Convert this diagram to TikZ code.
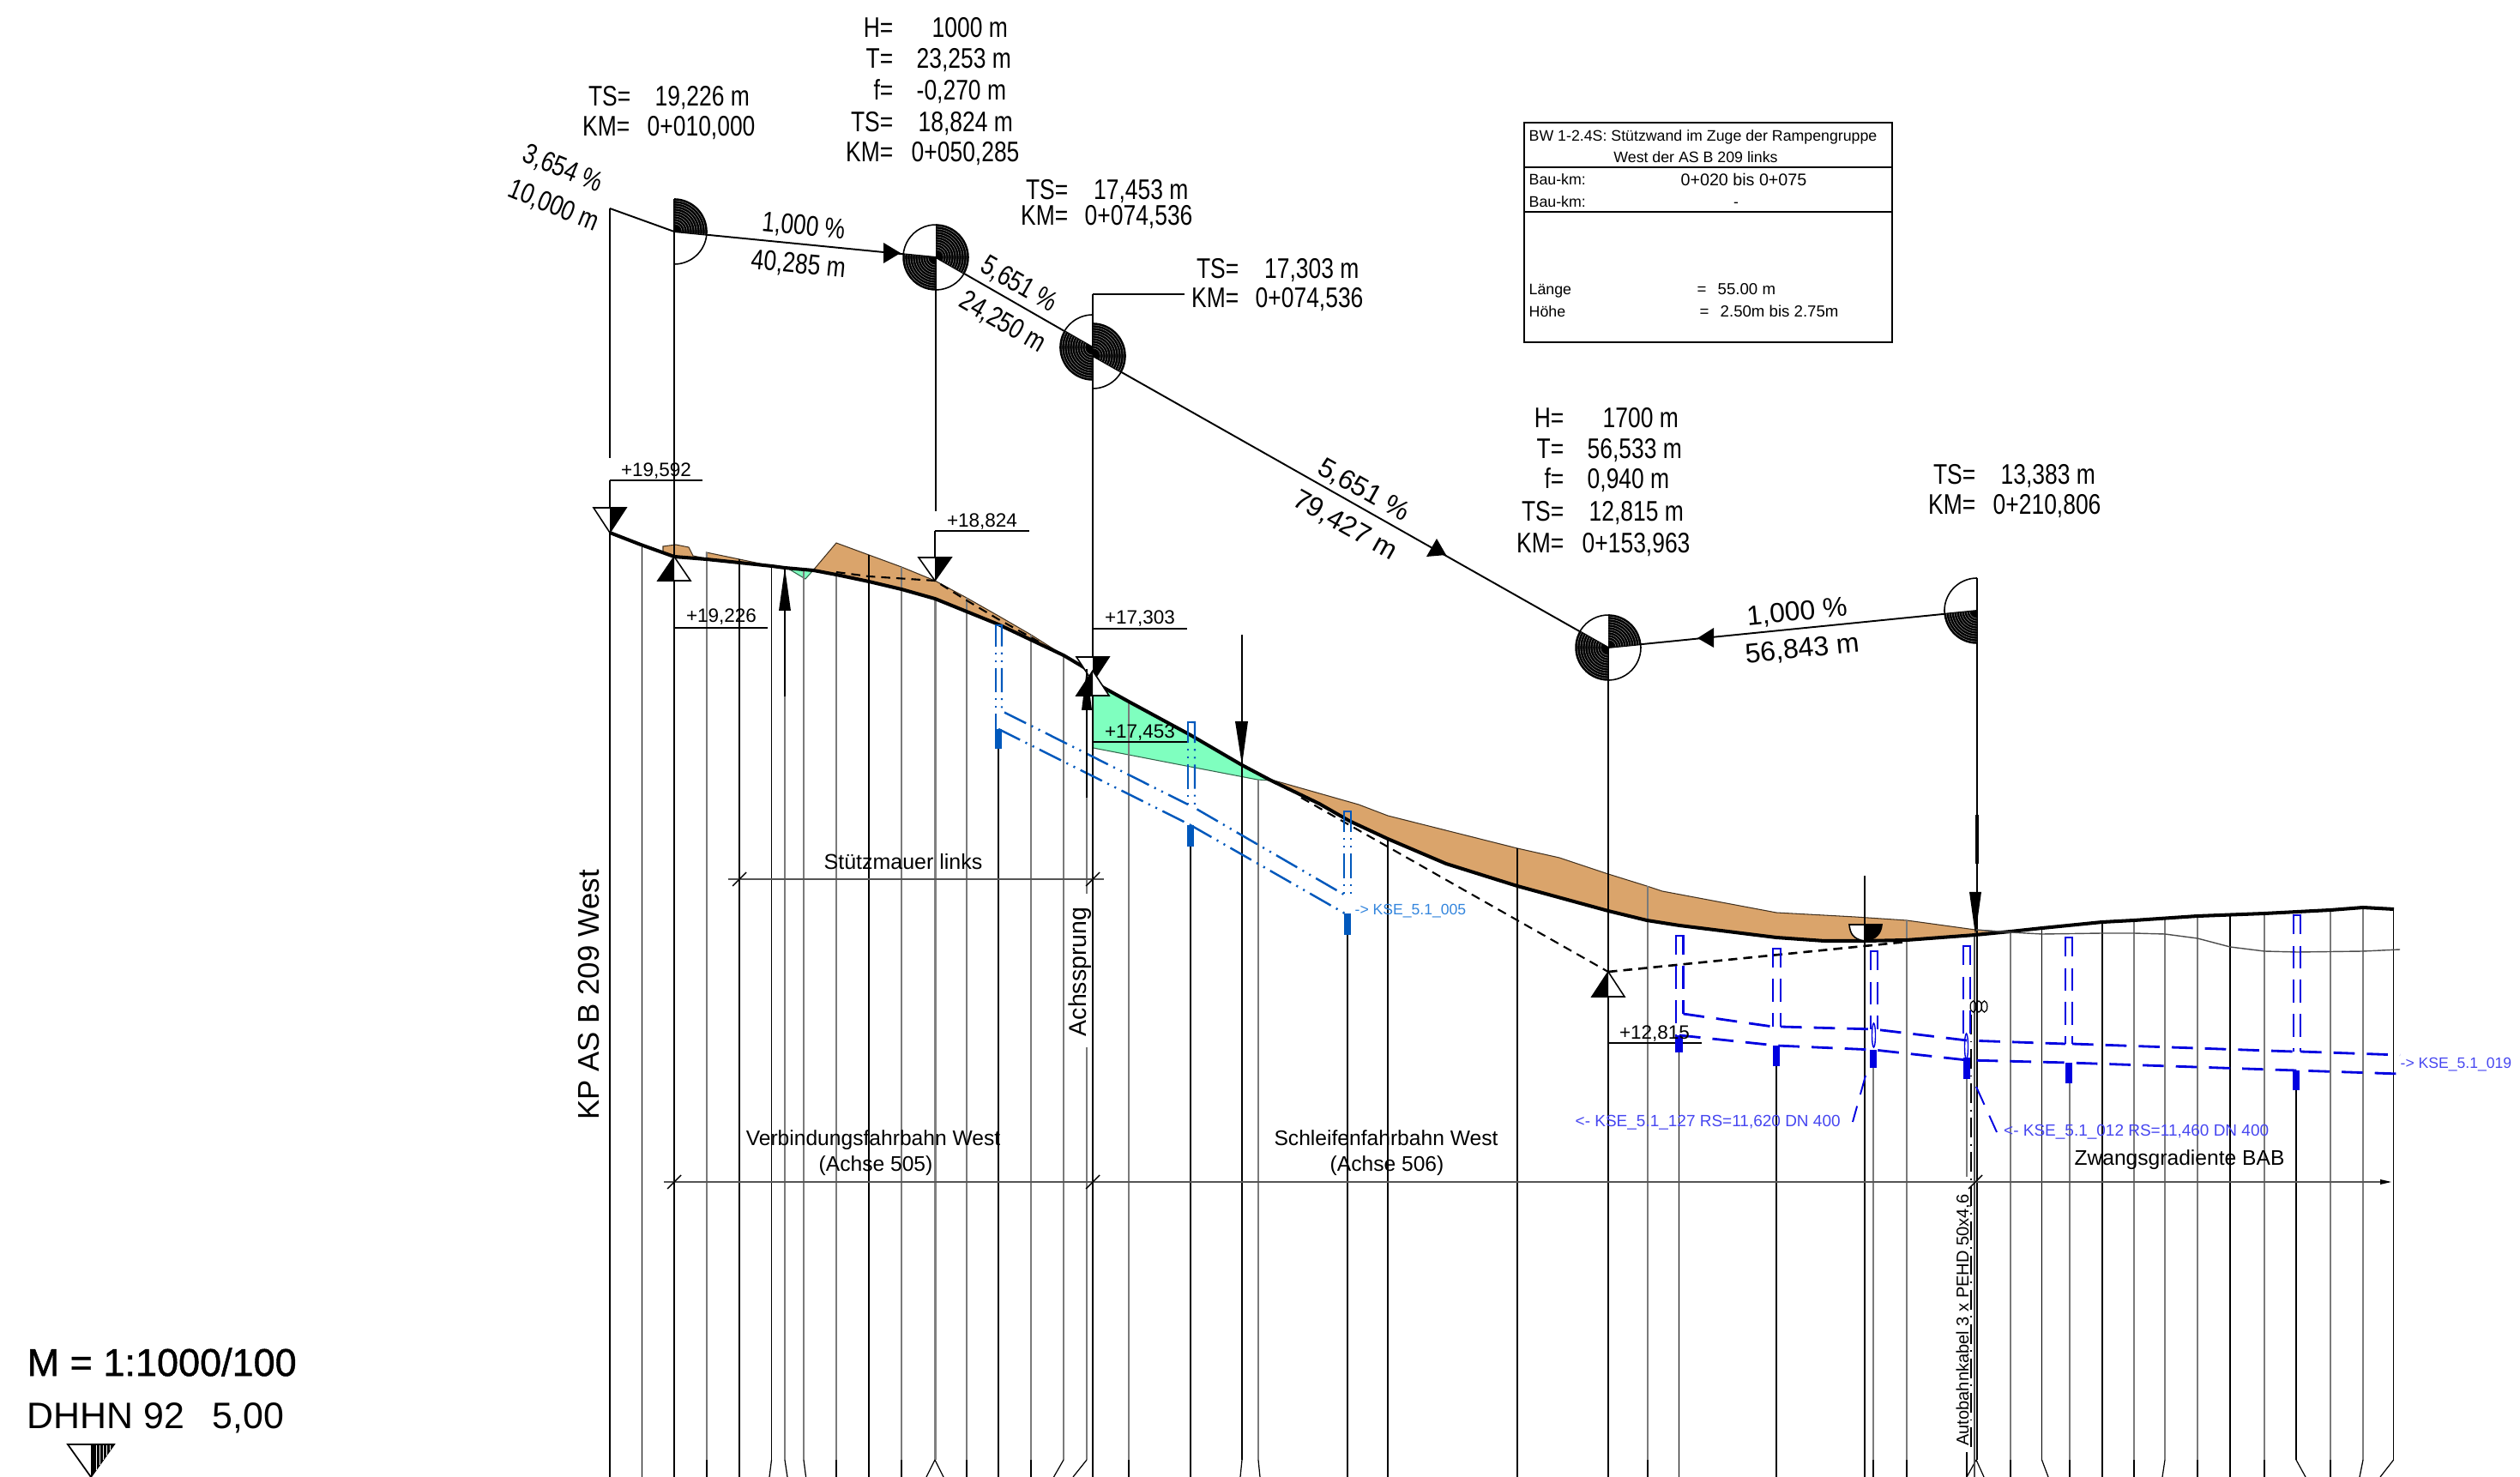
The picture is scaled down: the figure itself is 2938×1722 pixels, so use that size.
\documentclass[tikz,border=0pt]{standalone}
\usepackage{fontspec}
\setmainfont{Liberation Sans}
\newfontfamily\nar[FakeStretch=0.8]{Liberation Sans}
\newfontfamily\mfont[FakeBold=1.0]{Liberation Sans}
\definecolor{soil}{HTML}{DAA46B}
\definecolor{mint}{HTML}{7FFFBF}
\definecolor{bluea}{HTML}{0058BC}
\definecolor{blueb}{HTML}{0000E0}
\definecolor{txta}{HTML}{3385DD}
\definecolor{txtb}{HTML}{4646F0}
\definecolor{dimg}{HTML}{555555}
\tikzset{
  t/.style={inner sep=0pt,text depth=0pt,text height=#1*0.716pt,font=\fontsize{#1}{#1}\selectfont},
  tn/.style={inner sep=0pt,text depth=0pt,text height=#1*0.716pt,font=\nar\fontsize{#1}{#1}\selectfont},
  thinv/.style={line width=0.35pt,black},
  greyv/.style={line width=0.5pt,black!52},
  mainv/.style={line width=0.6pt,black},
  ground/.style={line width=1.15pt,black,line join=round},
  dashg/.style={line width=0.6pt,dash pattern=on 3pt off 2pt,black},
  pipea/.style={line width=0.7pt,bluea,dash pattern=on 8pt off 2pt on .6pt off 2pt on .6pt off 2pt},
  pipeb/.style={line width=0.8pt,blueb,dash pattern=on 7pt off 4pt},
  shaftb/.style={line width=0.65pt,blueb,dash pattern=on 7.5pt off 3.8pt},
  stuba/.style={line width=2.2pt,bluea},
  stubb/.style={line width=2.3pt,blueb},
  dimline/.style={line width=0.7pt,dimg},
  tick/.style={line width=0.4pt,black},
}
% sector in y-down pixel coordinates: angle 0 = right, 90 = down
\newcommand\sect[4]{%
  \fill[black] (#1,#2) -- plot[domain=#3:#4,samples=24] ({#1+38*cos(\x)},{#2+38*sin(\x)}) -- cycle;
  \foreach \rr in {9,12,15,18,21,24,27,30,33,36}{\draw[white!75!black,line width=0.09pt] plot[domain=#3:#4,samples=24] ({#1+\rr*cos(\x)},{#2+\rr*sin(\x)});}
}
\newcommand\outl[4]{\draw[line width=0.45pt] plot[domain=#3:#4,samples=50] ({#1+38*cos(\x)},{#2+38*sin(\x)});}
% triangle x,tip,base,halfwidth,blackside
\newcommand\tri[5]{%
  \draw[line width=0.45pt,fill=white,line join=miter] (#1,#2) -- ({#1-#4},#3) -- ({#1+#4},#3) -- cycle;
  \fill[black] (#1,#2) -- ({#1+#5*#4},#3) -- (#1,#3) -- cycle;
}
\newcommand\rowt[6]{%
  \node[tn=9.4,anchor=east] (#1a) at (#3,#2) {#4};
  \node[tn=9.4,anchor=west] (#1b) at (#5,#2) {#6};
}
\newcommand\tickm[2]{\draw[tick] ({#1-8},{#2+8}) -- ({#1+8},{#2-8});}
\begin{document}
\begin{tikzpicture}[x=0.01cm,y=-0.01cm]
\useasboundingbox (0,0) rectangle (2938,1722);

% soil and fill areas
\fill[soil,draw=black!70!soil,line width=0.3pt] (948,665) -- (975,633) -- (1013,647) -- (1051,661) -- (1090,677) -- (1127,697) -- (1164,718) -- (1202,740) -- (1240,764) -- (1202,746) -- (1164,728) -- (1127,713) -- (1090,698) -- (1051,687) -- (1013,678) -- (975,670) -- cycle;
\fill[soil,draw=black!70!soil,line width=0.3pt] (773,644) -- (773,637) -- (788,635) -- (803,638) -- (808,648) -- (823,651) -- (786,649) -- cycle;
\fill[soil,draw=black!70!soil,line width=0.3pt] (823.5,644) -- (862,652) -- (900,660) -- (862,656) -- (823.5,652) -- cycle;
\fill[mint,draw=black!60!mint,line width=0.3pt] (919,663) -- (947,666) -- (939,675) -- cycle;
\fill[mint,draw=black!60!mint,line width=0.3pt] (1274.5,795) -- (1316,818) -- (1388,857) -- (1448,892) -- (1482,910) -- (1466,909) -- (1388,894) -- (1274.5,872) -- cycle;
\fill[soil,draw=black!70!soil,line width=0.3pt] (1482,909) -- (1584,938) -- (1618,951) -- (1769,989) -- (1818,1000) -- (1875,1019) -- (1920,1033) -- (1938,1039) -- (2071,1064) -- (2163,1069) -- (2223,1073) -- (2303,1084) -- (2333,1086) -- (2303,1090) -- (2223,1096) -- (2174,1097) -- (2127,1097) -- (2071,1093) -- (1958,1079) -- (1920,1073) -- (1875,1062) -- (1769,1033) -- (1686,1007) -- (1618,978) -- (1573,957) -- (1538,937) -- cycle;

% thin station lines
\foreach \xx/\yy in {748.5/635,862/652,899.5/660,1013/647,1164/873,1388/987,1448/892,1571/1090,1618/978,1769/989,1957.5/1227,2071/1243,2174/1021,2380.5/1082,2451/1075,2600/1066,2677/1271,2790.6/1060}
  {\draw[thinv] (\xx,\yy) -- (\xx,1702);}
\foreach \xx/\yy in {824/644,915/812,937/665,975/667,1051/661,1127/697,1202/740,1240/764,1267/1221,1316/818,1467/909,1921/1033,2184/1245,2223/1073,2344/1086,2413/1263,2488/1073,2524/1070,2562/1068,2640/1065,2717/1061,2755/1058}
  {\draw[greyv] (\xx,\yy) -- (\xx,1702);}
\draw[greyv] (1267,930) -- (1267,1042);
\draw[greyv] (2293,1258) -- (2293,1372);
\draw[thinv] (2293,1693) -- (2293,1702);
% lower ends of the station lines
\foreach \xa/\xb in {748.5/748.5,786/786,824/824,862/862,899.5/897,915/918,937/939.6,975/975,1013/1013,1051/1051,1127/1127,1164/1164,1202/1202,1240/1228.5,1267/1251,1316/1316,1388/1388,1448/1446,1467/1469,1571/1571,1618/1618,1769/1769,1921/1921,1957.5/1957.5,2071/2071,2174/2174,2184/2184,2223/2223,2293/2293,2344/2344,2380.5/2388,2413/2413,2451/2451,2488/2488,2524/2521,2562/2562,2600/2600,2640/2640,2677/2688,2717/2717,2755/2751,2790.6/2775}
  {\draw[thinv] (\xa,1702) -- (\xb,1722);}
\draw[line width=0.85pt,black!50] (1090,698) -- (1090,1702);
\draw[thinv] (1090,1702) -- (1080,1722) (1090,1702) -- (1100,1722);
\draw[thinv] (2304,1702) -- (2293,1722) (2304,1702) -- (2313,1722);
\draw[line width=0.3pt,black,dash pattern=on 6.5pt off 2.2pt on .5pt off 2.2pt] (2298,1183) -- (2298,1693);
\draw[line width=0.3pt,black!70] (2302,1090) -- (2302,1722);

% main verticals and level leaders
\draw[mainv] (711,243) -- (711,534);
\draw[mainv] (711,560) -- (711,1722);
\draw[mainv] (786,232) -- (786,1722);
\draw[mainv] (1091,300) -- (1091,596);
\draw[mainv] (1090,619) -- (1090,677);
\draw[mainv] (1274,343) -- (1274,1722);
\draw[mainv] (1875,755) -- (1875,1722);
\draw[mainv] (2305,674) -- (2305,1702);
\draw[line width=1pt] (2305,950) -- (2305,1007);
\draw[mainv] (1274,343) -- (1381,343);
\draw[line width=0.5pt] (711,560) -- (819,560);
\draw[line width=0.5pt] (786,732) -- (895,732);
\draw[line width=0.5pt] (1090,619) -- (1200,619);
\draw[line width=0.5pt] (1274,733) -- (1384,733);
\draw[line width=0.5pt] (1274,865) -- (1385,865);
\draw[line width=0.5pt] (1875,1216) -- (1984,1216);

% tangent polygon
\draw[line width=0.55pt,line join=round] (711,243) -- (786,270) -- (1091,300);
\draw[line width=0.55pt] (1091,300) -- (1274,405);
\draw[line width=0.55pt] (1274,415) -- (1875,755);
\draw[line width=0.55pt] (1875,755) -- (2305,712);
\fill[black] (1050,295) -- (1030,283) -- (1030,307) -- cycle;
\fill[black] (1686,647) -- (1675,628) -- (1663,649) -- cycle;
\fill[black] (1979,744) -- (1998,732) -- (1998,755) -- cycle;

% curve circles
\sect{786}{270}{-90}{5.6}
\outl{786}{270}{-90}{90}
\sect{1091}{300}{-90}{29.8}
\sect{1091}{300}{90}{185.6}
\outl{1091}{300}{0}{360}
\sect{1274}{405}{90}{209.8}
\outl{1274}{405}{90}{270}
\sect{1274}{415}{-90}{29.4}
\outl{1274}{415}{-90}{90}
\sect{1875}{755}{-90}{-5.7}
\sect{1875}{755}{90}{209.4}
\outl{1875}{755}{0}{360}
\sect{2305}{712}{90}{174.3}
\outl{2305}{712}{90}{270}

% design dashed lines
\draw[dashg] (975,667) -- (1013,672) -- (1090,677) -- (1127,700) -- (1164,722) -- (1211,748);
\draw[dashg] (1517,930) -- (1875,1133);
\draw[dashg,line width=0.75pt] (1875,1133) -- (2223,1098);

% ground lines
\draw[ground] (711,621) -- (747,635) -- (786,649) -- (823.5,652) -- (862,656) -- (900,660) -- (915,662) -- (948.5,665) -- (975,670) -- (1013,678) -- (1051,687) -- (1090,698) -- (1127,713) -- (1164,728) -- (1202,746) -- (1240,764) -- (1272,783);
\draw[ground] (1274.5,795) -- (1316,818) -- (1388,857) -- (1448,892) -- (1482,910) -- (1538,937) -- (1573,957) -- (1618,978) -- (1686,1007) -- (1769,1033) -- (1875,1062) -- (1920,1073) -- (1958,1079) -- (2071,1093) -- (2127,1097) -- (2174,1097) -- (2223,1096) -- (2303,1090) -- (2344,1086) -- (2381,1082) -- (2451,1075) -- (2488,1073) -- (2562,1068) -- (2640,1065) -- (2717,1061) -- (2755,1058) -- (2791,1060);
\draw[line width=0.4pt,black!70] (2303,1084) -- (2344,1087) -- (2381,1089) -- (2451,1088) -- (2488,1088) -- (2524,1089) -- (2562,1094) -- (2600,1104) -- (2640,1109) -- (2678,1110) -- (2755,1109) -- (2798,1107);

% blue drainage, west part
\draw[pipea] (1164.5,729) -- (1161,729) -- (1161,850);
\draw[pipea] (1164.5,729) -- (1168,729) -- (1168,829) -- (1385,938);
\draw[pipea] (1164,850) -- (1388,962);
\draw[pipea] (1389,842) -- (1385,842) -- (1385,938);
\draw[pipea] (1389,842) -- (1393,842) -- (1393,942) -- (1567,1043);
\draw[pipea] (1388,962) -- (1568,1065);
\draw[pipea] (1571,946) -- (1567,946) -- (1567,1043);
\draw[pipea] (1571,946) -- (1575,946) -- (1575,1045);
\draw[stuba] (1164,850) -- (1164,873);
\draw[stuba] (1388,962) -- (1388,987);
\draw[stuba] (1571,1065) -- (1571,1090);

% blue drainage, east part
\foreach \xl/\xr/\yt/\yl/\yr in {1954/1962.5/1091/1207/1182,2067/2076/1106/1197/1197,2181/2189/1109/1200/1200,2289/2297/1103/1213/1213,2408/2416/1093/1217/1217,2674/2682/1067/1226/1226}{
  \draw[shaftb] ({(\xl+\xr)/2},\yt) -- (\xl,\yt) -- (\xl,\yl);
  \draw[shaftb] ({(\xl+\xr)/2},\yt) -- (\xr,\yt) -- (\xr,\yr);
}
\draw[pipeb] (1962.5,1182) -- (2067,1197);
\draw[pipeb] (2076,1197) -- (2185,1200) -- (2293,1213) -- (2408,1217);
\draw[pipeb] (2416,1217) -- (2674,1226);
\draw[pipeb] (2682,1226) -- (2798,1230);
\draw[pipeb] (1958,1207) -- (2071,1219) -- (2185,1224) -- (2293,1236) -- (2412,1239) -- (2677,1248) -- (2798,1252);
\draw[stubb] (1957.5,1207) -- (1957.5,1227);
\draw[stubb] (2071,1219) -- (2071,1243);
\draw[stubb] (2184,1224) -- (2184,1245);
\draw[stubb] (2293,1233) -- (2293,1258);
\draw[stubb] (2412,1239) -- (2412,1263);
\draw[stubb] (2677,1248) -- (2677,1271);
\draw[blueb,line width=0.4pt] (2292.5,1220) ellipse [x radius=2,y radius=15];
\draw[blueb,line width=0.4pt] (2184.5,1207) ellipse [x radius=2,y radius=14];
\draw[blueb,line width=0.55pt,dash pattern=on 6.5pt off 4pt] (2175,1254) -- (2160,1308);
\draw[blueb,line width=0.55pt,dash pattern=on 6.5pt off 4pt] (2304,1267) -- (2328,1320);
\foreach \xx in {2300.5,2307,2313.5}{\draw[line width=0.35pt] (\xx,1173.5) ellipse [x radius=3.4,y radius=6.5];}

% level triangles and arrows
\tri{711}{621}{592}{19}{1}
\tri{786}{649}{677}{19}{-1}
\tri{1090}{677}{650}{19}{1}
\tri{1274}{795}{766}{19}{1}
\tri{1274}{782}{811}{19}{-1}
\tri{1875}{1133}{1162}{19}{-1}
\draw[line width=0.45pt,fill=white] (2174,1097) .. controls (2160,1095) and (2157,1088) .. (2156,1078) -- (2194,1078) .. controls (2193,1088) and (2188,1095) .. (2174,1097) -- cycle;
\fill[black] (2174,1097) .. controls (2188,1095) and (2193,1088) .. (2194,1078) -- (2174,1078) -- cycle;
\draw[line width=0.5pt] (2174,1021) -- (2174,1097);
\draw[line width=0.6pt] (915,662) -- (915,812);
\fill[black] (915,662) -- (908,712) -- (922,712) -- cycle;
\draw[line width=0.75pt] (1267,780) -- (1267,930);
\fill[black] (1267,780) -- (1261,828) -- (1273,828) -- cycle;
\draw[line width=0.55pt] (1448,740) -- (1448,892);
\fill[black] (1448,892) -- (1440,841) -- (1455,841) -- cycle;
\fill[black] (2303,1090) -- (2296,1040) -- (2310,1040) -- cycle;

% dimension lines
\draw[dimline] (849,1025) -- (1287,1025);
\tickm{862}{1025}
\tickm{1274}{1025}
\draw[dimline] (774,1378) -- (2782,1378);
\fill[black] (2788,1378) -- (2775,1375) -- (2775,1381) -- cycle;
\tickm{786}{1378}
\tickm{1274}{1378}
\tickm{2303}{1378}

% station blocks
\rowt{aa}{112}{736}{TS=}{763}{19,226 m}
\rowt{ab}{147}{735}{KM=}{754}{0+010,000}
\rowt{ba}{32}{1042}{H=}{1086}{1000 m}
\rowt{bb}{68}{1042}{T=}{1068}{23,253 m}
\rowt{bc}{105}{1042}{f=}{1068}{-0,270 m}
\rowt{bd}{142}{1042}{TS=}{1070}{18,824 m}
\rowt{be}{177}{1042}{KM=}{1062}{0+050,285}
\rowt{ca}{221}{1246}{TS=}{1274.5}{17,453 m}
\rowt{cb}{251}{1246}{KM=}{1264}{0+074,536}
\rowt{da}{313}{1445}{TS=}{1473.5}{17,303 m}
\rowt{db}{347}{1445}{KM=}{1463}{0+074,536}
\rowt{ea}{487}{1824}{H=}{1868}{1700 m}
\rowt{eb}{523}{1824}{T=}{1850}{56,533 m}
\rowt{ec}{558}{1824}{f=}{1850}{0,940 m}
\rowt{ed}{596}{1824}{TS=}{1852}{12,815 m}
\rowt{ee}{633}{1824}{KM=}{1844}{0+153,963}
\rowt{fa}{553}{2304}{TS=}{2332}{13,383 m}
\rowt{fb}{588}{2304}{KM=}{2323}{0+210,806}

% grade labels
\node[tn=9.4,rotate=-22] (g1a) at (657,195) {3,654 \%};
\node[tn=9.4,rotate=-22] (g1b) at (646,238) {10,000 m};
\node[tn=9.4,rotate=-5.6] (g2a) at (937,262) {1,000 \%};
\node[tn=9.4,rotate=-5.6] (g2b) at (931,307) {40,285 m};
\node[tn=9.4,rotate=-30] (g3a) at (1189,330) {5,651 \%};
\node[tn=9.4,rotate=-30] (g3b) at (1170,374) {24,250 m};
\node[t=9.1,rotate=-29.4] (g4a) at (1591,570) {5,651 \%};
\node[t=9.1,rotate=-29.4] (g4b) at (1569,611) {79,427 m};
\node[t=9.1,rotate=5.7] (g5a) at (2095,712) {1,000 \%};
\node[t=9.1,rotate=5.7] (g5b) at (2101,755) {56,843 m};

% level labels
\node[t=6.4] (l1) at (765,547) {+19,592};
\node[t=6.4] (l2) at (841,717) {+19,226};
\node[t=6.4] (l3) at (1145,606) {+18,824};
\node[t=6.4] (l4) at (1329,719) {+17,303};
\node[t=6.4] (l5) at (1329,852) {+17,453};
\node[t=6.4] (l6) at (1929,1203) {+12,815};

% side and span labels
\node[t=9.9,rotate=90] (kp) at (686,1160) {KP AS B 209 West};
\node[t=8.1,rotate=90] (ach) at (1256,1133) {Achssprung};
\node[t=5.7,rotate=90] (kab) at (2288,1539) {Autobahnkabel 3 x PEHD 50x4,6};
\node[t=7.1] (stm) at (1053,1005) {Stützmauer links};
\node[t=7] (vb1) at (1018,1327) {Verbindungsfahrbahn West};
\node[t=7] (vb2) at (1021,1357) {(Achse 505)};
\node[t=7] (sc1) at (1616,1327) {Schleifenfahrbahn West};
\node[t=7] (sc2) at (1617,1357) {(Achse 506)};
\node[t=7] (zw) at (2541,1350) {Zwangsgradiente BAB};

% drain labels
\node[t=5,anchor=west,text=txta] (k1) at (1579,1060) {-> KSE\_5.1\_005};
\node[t=5.4,anchor=west,text=txtb] (k2) at (1836,1307) {<- KSE\_5.1\_127 RS=11,620 DN 400};
\node[t=5.4,anchor=west,text=txtb] (k3) at (2335.5,1318) {<- KSE\_5.1\_012 RS=11,460 DN 400};
\node[t=5,anchor=west,text=txtb] (k4) at (2798,1239) {-> KSE\_5.1\_019};

% structure table
\node[draw,line width=0.5pt,inner sep=0pt,minimum width=429*0.2845pt,minimum height=256*0.2845pt,anchor=north west] (box) at (1776,142) {};
\draw[line width=0.5pt] (1776,195) -- (2205,195);
\draw[line width=0.5pt] (1776,247) -- (2205,247);
\node[t=5.05,anchor=west] (b1) at (1782,158) {BW 1-2.4S: Stützwand im Zuge der Rampengruppe};
\node[t=5.05] (b2) at (1977,183) {West der AS B 209 links};
\node[t=5.05,anchor=west] (b3) at (1782,209) {Bau-km:};
\node[t=5.6] (b4) at (2033,209) {0+020 bis 0+075};
\node[t=5.05,anchor=west] (b5) at (1782,235) {Bau-km:};
\node[t=5] (b6) at (2024,235) {-};
\node[t=5.05,anchor=west] (b7) at (1782,337) {Länge};
\node[t=5.3,anchor=west] (b8) at (1978,337) {=};
\node[t=5.3,anchor=west] (b9) at (2002,337) {55.00 m};
\node[t=5.05,anchor=west] (b10) at (1782,363) {Höhe};
\node[t=5.3,anchor=west] (b11) at (1981,363) {=};
\node[t=5.3,anchor=west] (b12) at (2005,363) {2.50m bis 2.75m};

% scale legend
\node[t=12.8,anchor=west] (m) at (31,1588) {\mfont M = 1:1000/100};
\node[t=12.2,anchor=west] (d) at (31,1650) {DHHN 92\hspace{0.75em}5,00};
\draw[line width=0.5pt,fill=white] (106,1722) -- (79,1684) -- (133,1684) -- cycle;
\fill[black] (106,1722) -- (133,1684) -- (106,1684) -- cycle;
\foreach \xx in {112,116,120,124,128}{\draw[white,line width=0.15pt] (\xx,1685) -- (\xx,{1722-(\xx-106)*38/27});}
\end{tikzpicture}
\end{document}
